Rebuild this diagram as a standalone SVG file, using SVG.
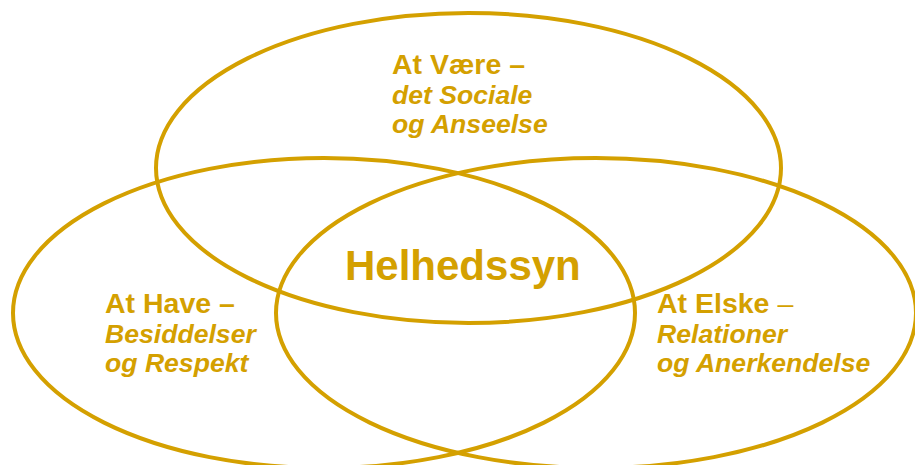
<svg xmlns="http://www.w3.org/2000/svg" width="915" height="465" viewBox="0 0 915 465">
<style>
.c{fill:none;stroke:#D4A000;stroke-width:4}
.t{font-family:"Liberation Sans",Arial,sans-serif;font-size:28.5px;fill:#D4A000;font-weight:bold}
.i{font-style:italic;font-size:26.6px}
.n{font-weight:normal}
.h{font-family:"Liberation Sans",Arial,sans-serif;font-size:42px;fill:#D4A000;font-weight:bold}
</style>
<rect width="915" height="465" fill="#fff"/>
<g id="vaere">
<ellipse class="c" cx="468.5" cy="168" rx="312.5" ry="155"/>
<text class="t" x="392" y="74">At Være –</text>
<text class="t i" x="392" y="104">det Sociale</text>
<text class="t i" x="392" y="133">og Anseelse</text>
</g>
<g id="have">
<ellipse class="c" cx="324" cy="313" rx="311" ry="155"/>
<text class="t" x="105" y="313">At Have –</text>
<text class="t i" x="105" y="343">Besiddelser</text>
<text class="t i" x="105" y="372">og Respekt</text>
</g>
<g id="elske">
<ellipse class="c" cx="596" cy="313" rx="320" ry="155"/>
<text class="t" x="657" y="313">At Elske <tspan class="n">–</tspan></text>
<text class="t i" x="657" y="343">Relationer</text>
<text class="t i" x="657" y="372">og Anerkendelse</text>
</g>
<g id="helhed">
<text class="h" x="345" y="280">Helhedssyn</text>
</g>
<g id="connectors"/>
</svg>
